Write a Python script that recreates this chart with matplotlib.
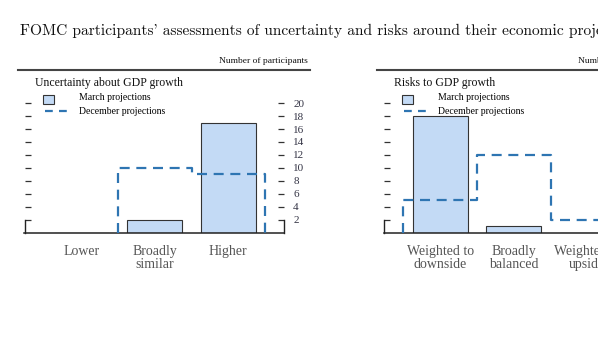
import numpy as np
import matplotlib
matplotlib.use("Agg")
import matplotlib.pyplot as plt
from matplotlib.patches import Rectangle
from matplotlib.lines import Line2D

# data
panel_titles = ["Uncertainty about GDP growth", "Risks to GDP growth"]
categories_left = ["Lower", "Broadly\nsimilar", "Higher"]
categories_right = ["Weighted to\ndownside", "Broadly\nbalanced", "Weighted to\nupside"]
march_left = [0, 2, 17]
december_left = [0, 10, 9]
march_right = [18, 1, 0]
december_right = [5, 12, 2]
yticks = [2, 4, 6, 8, 10, 12, 14, 16, 18, 20]
legend_labels = ["March projections", "December projections"]

W, H = 598, 360
BAR_COLOR = "#C3DAF5"
EDGE_COLOR = "#333333"
DASH_COLOR = "#2E75B2"
SERIF = ["Liberation Serif", "DejaVu Serif"]
DASH_STYLE = (0, (4.5, 3.0))


def fx(px):
    return px / W


def fy(py):
    return 1 - py / H


def step_outline(values):
    """Histogram-style outline for the December series, skipping leading zeros."""
    edges = np.arange(len(values) + 1) - 0.5
    start = next(i for i, v in enumerate(values) if v > 0)
    xs, ys = [edges[start]], [0]
    for i in range(start, len(values)):
        xs += [edges[i], edges[i + 1]]
        ys += [values[i], values[i]]
    xs.append(edges[-1])
    ys.append(0)
    return xs, ys


fig = plt.figure(figsize=(W / 100, H / 100), dpi=100)

# cmr10 maps the ASCII quote to a right quote glyph
fig.text(fx(20), fy(30.5), "FOMC participants' assessments of uncertainty and risks around their economic projections",
         family=["cmr10", "DejaVu Serif"], fontsize=11.1, va="center", ha="left", color="#111111")


def draw_panel(off, title, cats, march, december):
    # header rule + units
    fig.add_artist(Line2D([fx(18 + off), fx(310 + off)], [fy(70), fy(70)], color="#444444", lw=1.5))
    fig.text(fx(308 + off), fy(61), "Number of participants", family=SERIF, fontsize=6.8,
             ha="right", va="center", color="#111111")
    fig.text(fx(35 + off), fy(83), title, family=SERIF, fontsize=8.5, ha="left", va="center", color="#111111")

    # legend drawn by hand
    fig.add_artist(Rectangle((fx(43 + off), fy(103.5)), fx(11), 9 / H, facecolor=BAR_COLOR,
                             edgecolor=EDGE_COLOR, lw=0.8))
    fig.text(fx(79 + off), fy(98), legend_labels[0], family=SERIF, fontsize=7, ha="left", va="center")
    fig.add_artist(Line2D([fx(45 + off), fx(67 + off)], [fy(111), fy(111)], color=DASH_COLOR,
                          lw=1.6, linestyle=(0, (3.5, 2.8))))
    fig.text(fx(79 + off), fy(111), legend_labels[1], family=SERIF, fontsize=7, ha="left", va="center")

    unit = 6.48
    ax = fig.add_axes([fx(24.5 + off), (H - 232.7) / H, 259 / W, 22 * unit / H])
    x = np.arange(len(cats))
    ax.bar(x, march, width=0.75, color=BAR_COLOR, edgecolor=EDGE_COLOR, linewidth=0.8, zorder=1)
    xs, ys = step_outline(december)
    ax.plot(xs, ys, color=DASH_COLOR, lw=1.6, linestyle=DASH_STYLE, zorder=3, clip_on=False)

    ax.set_xlim(-0.77, 2.75)
    ax.set_ylim(0, 22)
    ax.set_xticks(x)
    ax.set_xticklabels(cats, family=SERIF, fontsize=10, color="#555555", linespacing=0.95)
    ax.tick_params(axis="x", length=0, pad=9)
    ax.set_yticks(yticks)
    ax.set_yticklabels([str(t) for t in yticks], family=SERIF, fontsize=8, color="#333344")
    ax.tick_params(axis="y", left=True, right=True, labelleft=False, labelright=True,
                   direction="in", length=4, width=0.9, color="#333333", pad=7)
    ax.spines["top"].set_visible(False)
    for side in ("left", "right"):
        ax.spines[side].set_bounds(0, 2)
        ax.spines[side].set_linewidth(1.0)
        ax.spines[side].set_color("#222222")
    ax.spines["bottom"].set_linewidth(1.1)
    ax.spines["bottom"].set_color("#222222")
    ax.patch.set_alpha(0)
    return ax


draw_panel(0, panel_titles[0], categories_left, march_left, december_left)
draw_panel(359, panel_titles[1], categories_right, march_right, december_right)

fig.savefig("out.png", dpi=100)
